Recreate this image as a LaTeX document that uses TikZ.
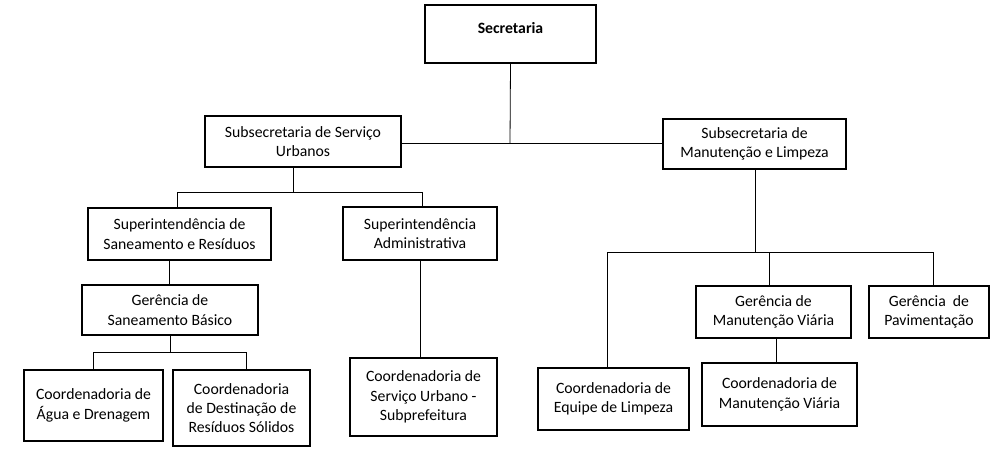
\documentclass[tikz,border=0pt]{standalone}
\usepackage{fontspec}
\setmainfont{Carlito}
\begin{document}
\begin{tikzpicture}[x=0.75pt,y=-0.75pt,
  box/.style={draw,line width=1pt,align=center,font=\fontsize{11.8}{14.5}\selectfont,inner sep=0pt},
  ln/.style={line width=0.6pt}]
\useasboundingbox (0,0) rectangle (998,450);
\newcommand{\bx}[6]{\node[box,minimum width=#4*0.75pt-#2*0.75pt,minimum height=#5*0.75pt-#3*0.75pt] (#1) at ({(#2+#4)/2},{(#3+#5)/2}) {#6};}
\bx{sec}{425}{5}{596}{63}{\textbf{Secretaria}\\[-6pt]}
\bx{ss}{205}{116}{401}{167}{Subsecretaria de Serviço\\Urbanos}
\bx{sm}{663}{119}{846}{169}{Subsecretaria de\\Manutenção e Limpeza}
\bx{sup1}{88}{208}{271}{260}{Superintendência de\\Saneamento e Resíduos}
\bx{sup2}{343}{207}{497}{260}{Superintendência\\Administrativa}
\bx{ger1}{82}{285}{258}{335}{Gerência de\\Saneamento Básico}
\bx{ca}{24}{370}{163}{441}{Coordenadoria de\\Água e Drenagem}
\bx{cd}{173}{370}{310}{446}{Coordenadoria\\de Destinação de\\Resíduos Sólidos}
\bx{csu}{350}{358}{497}{436}{Coordenadoria de\\Serviço Urbano -\\Subprefeitura}
\bx{cel}{538}{368}{689}{430}{Coordenadoria de\\Equipe de Limpeza}
\bx{gmv}{696}{286}{851}{338}{Gerência de\\Manutenção Viária}
\bx{gp}{869}{286}{989}{338}{Gerência ~de\\Pavimentação}
\bx{cmv}{702}{363}{857}{426}{Coordenadoria de\\Manutenção Viária}
\coordinate (j0) at (510,143);
\draw[ln] (sec.south) -- (j0);
\draw[ln] (ss.east |- j0) -- (sm.west |- j0);
\draw[ln] (293,167) -- (293,192);
\draw[ln] (177,208) -- (177,192) -- (422,192) -- (422,207);
\draw[ln] (169,260) -- (169,285);
\draw[ln] (93,370) -- (93,352) -- (246,352) -- (246,370);
\draw[ln] (170,335) -- (170,352);
\draw[ln] (420,260) -- (420,358);
\draw[ln] (755,169) -- (755,252);
\draw[ln] (607,368) -- (607,252) -- (933,252) -- (933,286);
\draw[ln] (769,252) -- (769,286);
\draw[ln] (776,338) -- (776,363);
\end{tikzpicture}
\end{document}
